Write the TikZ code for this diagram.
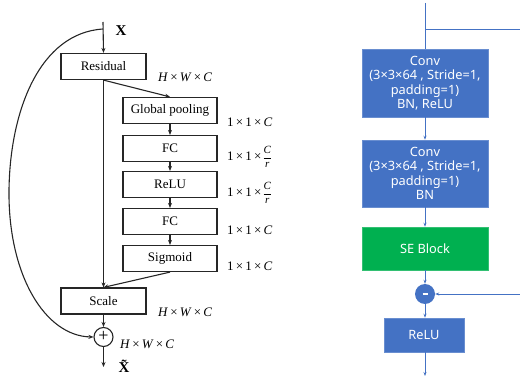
\documentclass[tikz,border=0pt]{standalone}
\usepackage{fontspec}
\setmainfont{Liberation Serif}
\newfontfamily\rfont{Noto Sans}
\usetikzlibrary{arrows.meta}
\definecolor{oblue}{HTML}{4472C4}
\definecolor{ogreen}{HTML}{00B050}
\newcommand{\tms}{\,\texttimes\,}
\newcommand{\Cr}{\setlength{\tabcolsep}{0pt}\renewcommand{\arraystretch}{0.85}\begin{tabular}[c]{@{}c@{}}\fontsize{11}{11}\selectfont\itshape C\\\hline\rule{0pt}{9pt}\fontsize{11}{11}\selectfont\itshape r\end{tabular}}
\begin{document}
\begin{tikzpicture}[x=1pt,y=-1pt,
  lbox/.style={draw=black!85,line width=1.2pt,minimum height=26pt,inner sep=0pt,font=\fontsize{13}{15}\selectfont},
  sebox/.style={lbox,minimum width=94pt},
  larr/.style={-{Stealth[length=5pt,width=4pt]},line width=1.1pt,black!85},
  lline/.style={line width=1.1pt,black!85},
  dim/.style={font=\fontsize{13}{15}\selectfont,inner sep=0pt,anchor=west},
  rbox/.style={fill=oblue,draw=oblue!80!white,line width=0.5pt,text=white,inner sep=0pt,align=center,font=\rfont\fontsize{12.8}{14.5}\selectfont},
  rarr/.style={-{Stealth[length=4pt,width=3pt]},oblue,line width=0.8pt},
  rline/.style={oblue,line width=0.8pt}]
\useasboundingbox (0,0) rectangle (520,377);
% ---------- left panel ----------
\coordinate (xin) at (103,22);
\coordinate (split) at (103,29);
\node[inner sep=0pt,font=\fontsize{15}{16}\selectfont\bfseries] (xl) at (121,31) {X};
\node[lbox,minimum width=85pt] (res) at (103.5,66.5) {Residual};
\node[sebox] (gp) at (170,110.5) {Global pooling};
\node[sebox] (fc1) at (170,148.5) {FC};
\node[sebox] (relu) at (170,184.5) {ReLU};
\node[sebox] (fc2) at (170,221.5) {FC};
\node[sebox] (sig) at (170,258.5) {Sigmoid};
\node[lbox,minimum width=85pt] (scale) at (103.5,301) {Scale};
\node[circle,draw=black!85,line width=1.1pt,minimum size=19pt,inner sep=0pt] (plus) at (103.5,337) {};
\node[inner sep=0pt,font=\fontsize{18}{18}\selectfont] (plussign) at (103.5,336) {+};
\coordinate (out) at (103.5,367);
\node[inner sep=0pt,font=\fontsize{15}{16}\selectfont\bfseries] (xt) at (124,366) {\~X};

\node[dim] (d0) at (158,77) {\textit{H}\tms\textit{W}\tms\textit{C}};
\node[dim] (d1) at (227,122) {1\tms1\tms\textit{C}};
\node[dim] (d2) at (227,158) {1\tms1\tms\Cr};
\node[dim] (d3) at (227,194) {1\tms1\tms\Cr};
\node[dim] (d4) at (227,230) {1\tms1\tms\textit{C}};
\node[dim] (d5) at (227,266) {1\tms1\tms\textit{C}};
\node[dim] (d6) at (158,312) {\textit{H}\tms\textit{W}\tms\textit{C}};
\node[dim] (d7) at (120,344) {\textit{H}\tms\textit{W}\tms\textit{C}};

\draw[larr] (xin) -- (res.north);
\draw[larr] (res.south) -- (gp.north);
\draw[larr] (res.south) -- (scale.north);
\draw[larr] (gp) -- (fc1);
\draw[larr] (fc1) -- (relu);
\draw[larr] (relu) -- (fc2);
\draw[larr] (fc2) -- (sig);
\draw[larr] (sig.south) -- (scale.north);
\draw[larr] (scale.south) -- (plus.north);
\draw[larr] (plus.south) -- (out);
\draw[larr] (split) .. controls (40,33) and (10,110) .. (9,190) .. controls (8,275) and (45,336) .. (plus.west);

% ---------- right panel ----------
\coordinate (rtop) at (425,3);
\coordinate (rsplit) at (425,29);
\coordinate (rright) at (520,29);
\coordinate (rfb) at (520,294);
\coordinate (rout) at (425,376);
\node[rbox,minimum width=126pt,minimum height=68pt] (conv1) at (425,83) {Conv\\(3×3×64 , Stride=1,\\padding=1)\\BN, ReLU};
\node[rbox,minimum width=126pt,minimum height=67pt] (conv2) at (425,173.5) {Conv\\(3×3×64 , Stride=1,\\padding=1)\\BN};
\node[rbox,fill=ogreen,draw=ogreen!80!white,minimum width=126pt,minimum height=43pt,font=\rfont\fontsize{12.8}{14}\selectfont] (se) at (425,248.5) {SE Block};
\node[circle,fill=oblue,minimum size=20pt,inner sep=0pt,text=white] (minus) at (425,294) {\rule[-0.5pt]{5pt}{2pt}};
\node[rbox,minimum width=80pt,minimum height=34pt,font=\rfont\fontsize{12.8}{14}\selectfont] (relu2) at (424,335) {ReLU};

\draw[rline] (rtop) -- (conv1.north);
\draw[rline] (rsplit) -- (rright);
\draw[rarr] (conv1) -- (conv2);
\draw[rarr] (conv2) -- (se);
\draw[rarr] (se) -- (minus);
\draw[rarr] (minus.south) -- (minus.south |- relu2.north);
\draw[rarr] (rfb) -- (minus.east);
\draw[rarr] (minus.south |- relu2.south) -- (rout);
\end{tikzpicture}
\end{document}
